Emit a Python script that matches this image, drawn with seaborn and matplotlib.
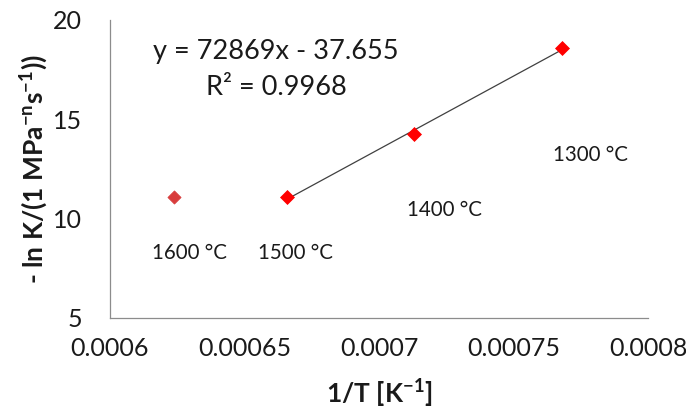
import numpy as np
import pandas as pd
import matplotlib
matplotlib.use("Agg")
import matplotlib.pyplot as plt
from matplotlib import font_manager as fm
import seaborn as sns

# Data
labels = ["1600 °C", "1500 °C", "1400 °C", "1300 °C"]
inv_T = [0.000624, 0.000666, 0.000713, 0.000768]
neg_lnK = [11.09, 11.09, 14.26, 18.59]
fit_slope = 72869
fit_intercept = -37.655
r_squared = 0.9968
x_ticks = [0.0006, 0.00065, 0.0007, 0.00075, 0.0008]
x_tick_labels = ["0.0006", "0.00065", "0.0007", "0.00075", "0.0008"]
y_ticks = [5, 10, 15, 20]

sns.set_theme(style="white")
base = "Lato"
bold_path = fm.findfont(fm.FontProperties(family=base, weight="bold"))
bold_family = base if "bold" in bold_path.lower() or "black" in bold_path.lower() else "Open Sans"
plt.rcParams["font.family"] = [base, "DejaVu Sans"]
plt.rcParams["mathtext.fontset"] = "custom"
plt.rcParams["mathtext.rm"] = bold_family
plt.rcParams["mathtext.bf"] = f"{bold_family}:bold"
plt.rcParams["mathtext.default"] = "bf"

TXT = "#1a1a1a"
df = pd.DataFrame({"x": inv_T, "y": neg_lnK, "label": labels})

fig = plt.figure(figsize=(6.86, 4.15), dpi=100)
ax = fig.add_axes([0.160, 0.234, 0.785, 0.718])

# trendline through the three fitted points (1500-1300 °C)
fit_df = df.iloc[1:]
coef = np.polyfit(fit_df["x"], fit_df["y"], 1)
xs = np.array([fit_df["x"].min(), fit_df["x"].max()])
sns.lineplot(x=xs, y=np.polyval(coef, xs), ax=ax, color="#404040", lw=0.9)

sns.scatterplot(data=df.iloc[1:], x="x", y="y", marker="D", s=50,
                color="#FF0000", edgecolor="#FF0000", ax=ax, zorder=3)
sns.scatterplot(data=df.iloc[:1], x="x", y="y", marker="D", s=45,
                color="#D83C3C", edgecolor="#D83C3C", ax=ax, zorder=3)

label_offsets = [(0.0000057, -2.82), (0.0000028, -2.82),
                 (0.0000115, -3.82), (0.0000104, -5.39)]
for (lx, ly, lab), (dx, dy) in zip(zip(inv_T, neg_lnK, labels), label_offsets):
    ax.text(lx + dx, ly + dy, lab, ha="center", va="center",
            fontsize=14.8, color=TXT)

ax.text(0.0006617, 18.39, f"y = {fit_slope}x - {abs(fit_intercept)}",
        ha="center", va="center", fontsize=19.5, color=TXT)
ax.text(0.000662, 16.58, f"R² = {r_squared}", ha="center", va="center",
        fontsize=19.5, color=TXT)

ax.set_xlim(0.0006, 0.0008)
ax.set_ylim(5, 20)
ax.set_xticks(x_ticks)
ax.set_xticklabels(x_tick_labels)
ax.set_yticks(y_ticks)
ax.tick_params(axis="both", length=0, labelsize=18, colors=TXT)
ax.tick_params(axis="x", pad=14)
ax.tick_params(axis="y", pad=20)

ax.set_xlabel("1/T [K$^{-1}$]", fontsize=19, fontweight="bold",
              family=bold_family, labelpad=12, color=TXT)
ax.set_ylabel("- ln K/(1 MPa$^{-n}$s$^{-1}$))", fontsize=19,
              fontweight="bold", family=bold_family, labelpad=2, color=TXT)

sns.despine(ax=ax)
for side in ["left", "bottom"]:
    ax.spines[side].set_color("#8c8c8c")
    ax.spines[side].set_linewidth(0.9)
ax.grid(False)

fig.savefig("out.png", dpi=100)
